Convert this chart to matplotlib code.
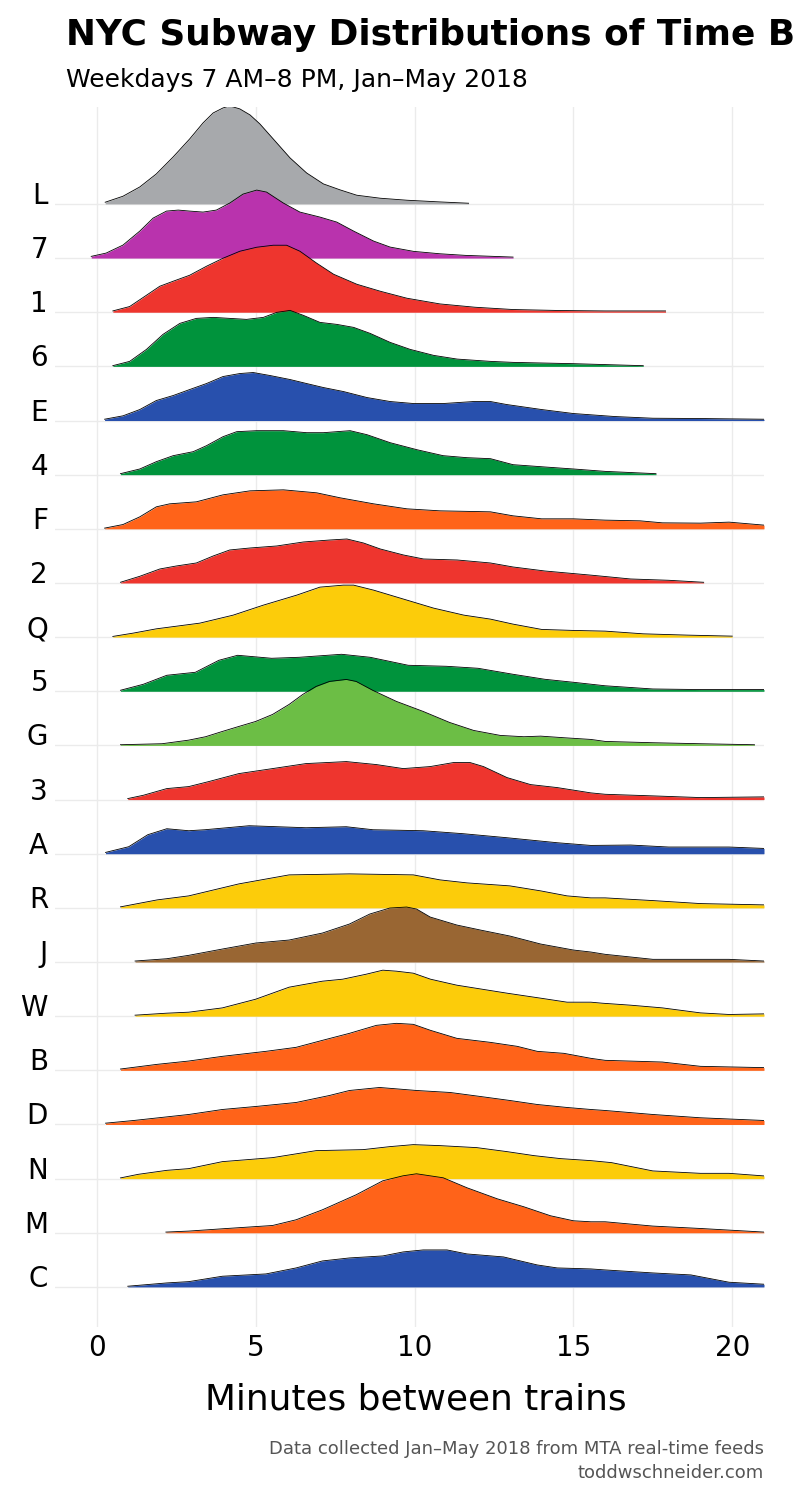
import numpy as np
import matplotlib.pyplot as plt

# subway lines, top row first
lines = ["L", "7", "1", "6", "E", "4", "F", "2", "Q", "5", "G",
         "3", "A", "R", "J", "W", "B", "D", "N", "M", "C"]

colors = {
    "L": "#A7A9AC", "7": "#B933AD",
    "1": "#EE352E", "2": "#EE352E", "3": "#EE352E",
    "4": "#00933C", "5": "#00933C", "6": "#00933C",
    "E": "#2850AD", "A": "#2850AD", "C": "#2850AD",
    "F": "#FF6319", "B": "#FF6319", "D": "#FF6319", "M": "#FF6319",
    "Q": "#FCCC0A", "R": "#FCCC0A", "W": "#FCCC0A", "N": "#FCCC0A",
    "G": "#6CBE45", "J": "#996633",
}

# minutes between trains / relative density
x_L = [0.26, 0.82, 1.35, 1.87, 2.4, 2.92, 3.34, 3.66, 3.97, 4.18, 4.5, 4.82, 5.13, 5.55, 6.08, 6.6, 7.13, 7.66, 8.18, 8.92, 9.76, 10.8, 11.7]
h_L = [1.7, 7.7, 17, 30, 47, 65, 81, 91, 96, 98, 95, 89, 80, 65, 46, 31, 20, 14, 8.7, 5.7, 3.7, 2, 0.7]

x_7 = [-0.18, 0.29, 0.82, 1.35, 1.77, 2.19, 2.56, 2.92, 3.34, 3.76, 4.18, 4.6, 5.03, 5.34, 5.87, 6.39, 7.02, 7.55, 8.08, 8.71, 9.23, 9.97, 10.8, 11.6, 13.1]
h_7 = [1.7, 5, 13, 27, 40, 47, 48, 47, 46, 48, 55, 64, 68, 66, 55, 46, 41, 36, 27, 17, 11, 6.7, 4.3, 2.7, 1]

x_1 = [0.5, 1.03, 1.56, 1.98, 2.4, 2.92, 3.45, 3.97, 4.5, 5.03, 5.55, 5.97, 6.39, 6.92, 7.45, 8.18, 8.92, 9.76, 10.8, 11.9, 13.1, 14.6, 16.0, 17.9]
h_1 = [1.3, 5.7, 17, 26, 31, 37, 46, 54, 61, 65, 67, 67, 61, 49, 38, 28, 21, 14, 8.3, 5, 2.7, 1.7, 1.3, 1.3]

x_6 = [0.5, 1.03, 1.56, 2.08, 2.61, 3.13, 3.66, 4.18, 4.71, 5.24, 5.66, 6.08, 6.5, 7.02, 7.55, 8.08, 8.6, 9.23, 9.86, 10.6, 11.34, 12.39, 13.1, 15.0, 17.2]
h_6 = [0.7, 5, 17, 32, 43, 48, 49, 48, 47, 49, 54, 56, 51, 44, 42, 39, 33, 24, 17, 11, 7.3, 5, 4, 2.7, 0.7]

x_E = [0.24, 0.82, 1.35, 1.87, 2.4, 2.92, 3.45, 3.97, 4.5, 4.92, 5.45, 6.08, 6.6, 7.13, 7.76, 8.5, 9.23, 9.97, 10.9, 11.86, 12.39, 12.9, 14.0, 15.0, 16.3, 17.5, 19.0, 21.0]
h_E = [1.3, 4.7, 11, 20, 25, 31, 37, 44, 47, 48, 45, 41, 37, 33, 29, 23, 19, 17, 17, 19, 19, 16, 11, 7, 4, 2.3, 2, 1.3]

x_4 = [0.74, 1.35, 1.87, 2.4, 3.03, 3.45, 3.97, 4.4, 5.03, 5.87, 6.6, 7.13, 7.97, 8.5, 9.23, 10.07, 10.9, 11.65, 12.39, 13.1, 14.1, 15.0, 16.0, 17.6]
h_4 = [1, 5.7, 13, 19, 23, 29, 38, 43, 44, 44, 42, 42, 44, 40, 32, 25, 19, 17, 16, 10, 7.7, 5.7, 3.3, 1]

x_F = [0.24, 0.82, 1.35, 1.87, 2.29, 3.13, 3.97, 4.82, 5.87, 6.92, 7.66, 8.71, 9.76, 10.8, 12.39, 13.1, 14.0, 15.0, 16.0, 17.1, 17.8, 19.0, 19.9, 21.0]
h_F = [0.7, 4.3, 12, 22, 25, 27, 34, 38, 39, 36, 31, 25, 20, 18, 17, 13, 10, 10, 8.7, 8, 6, 5.7, 6.7, 3.7]

x_2 = [0.74, 1.35, 1.98, 2.5, 3.13, 3.66, 4.18, 4.82, 5.66, 6.5, 7.34, 7.87, 8.39, 8.92, 9.65, 10.28, 11.34, 12.39, 13.1, 14.1, 15.6, 16.8, 18.0, 19.1]
h_2 = [0.7, 6.7, 14, 17, 20, 27, 33, 35, 37, 41, 43, 44, 40, 34, 28, 24, 23, 20, 16, 12, 7.7, 4, 2.7, 0.7]

x_Q = [0.5, 1.14, 1.87, 3.24, 4.29, 5.24, 6.29, 7.02, 7.76, 8.08, 8.71, 9.76, 10.6, 11.55, 12.39, 13.1, 14.0, 15.0, 16.0, 17.2, 18.6, 20.0]
h_Q = [0.7, 4, 8.3, 14, 22, 32, 42, 50, 52, 52, 47, 37, 29, 22, 18, 13, 7.7, 6.7, 6, 3.3, 2, 1]

x_5 = [0.74, 1.46, 2.2, 3.1, 3.84, 4.43, 5.5, 6.37, 7.7, 8.6, 9.8, 11.0, 12.0, 13.1, 14.1, 15.0, 16.0, 17.5, 19.0, 21.0]
h_5 = [1, 7, 16, 19, 31, 36, 33, 34, 37, 34, 26, 25, 23, 17, 12, 9, 5.5, 2.3, 1.7, 1.7]

x_G = [0.74, 2.05, 2.89, 3.42, 3.95, 4.47, 5.0, 5.53, 6.05, 6.48, 6.9, 7.32, 7.85, 8.16, 8.69, 9.43, 10.27, 11.1, 11.86, 12.7, 13.44, 13.97, 14.7, 15.55, 16.0, 17.5, 19.0, 20.7]
h_G = [0.7, 1.7, 5.3, 8.7, 14, 19, 24, 31, 41, 51, 59, 64, 66, 64, 55, 44, 34, 23, 15, 10, 8.7, 9.3, 7.7, 6, 4, 2.7, 1.7, 0.7]

x_3 = [0.97, 1.46, 2.2, 2.89, 3.52, 4.47, 5.53, 6.58, 7.85, 8.8, 9.64, 10.49, 11.22, 11.75, 12.17, 12.91, 13.65, 14.49, 15.55, 16.0, 17.5, 19.0, 21.0]
h_3 = [1, 4.3, 11, 13, 18, 26, 31, 36, 38, 35, 31, 33, 37, 37, 33, 22, 15, 12, 6.7, 5.3, 3.7, 2, 2.7]

x_A = [0.27, 1.0, 1.6, 2.2, 2.89, 3.4, 4.79, 6.58, 7.85, 8.69, 10.27, 11.54, 12.91, 14.49, 15.55, 16.8, 18.0, 19.9, 21.0]
h_A = [1.3, 7, 19, 25, 23, 24, 28, 26, 27, 24, 23, 20, 16, 11, 8.3, 8.7, 6.7, 6.7, 5.3]

x_R = [0.74, 1.9, 2.89, 4.47, 6.05, 7.95, 9.96, 10.8, 11.65, 13.0, 13.97, 14.8, 15.55, 16.0, 17.5, 19.0, 21.0]
h_R = [1, 8, 12, 24, 33, 34, 33, 28, 25, 22, 17, 12, 10, 10, 7.3, 4.3, 3]

x_J = [1.2, 2.2, 2.89, 3.95, 5.0, 6.05, 7.1, 7.95, 8.59, 9.22, 9.75, 10.06, 10.49, 11.33, 12.07, 13.0, 13.97, 15.0, 15.55, 16.0, 17.5, 19.0, 19.9, 21.0]
h_J = [1, 3.3, 6.7, 13, 19, 22, 29, 38, 48, 54, 55, 53, 45, 37, 32, 26, 18, 12, 10, 7.7, 2.7, 2.7, 2.7, 1]

x_W = [1.2, 2.2, 2.89, 3.95, 5.0, 6.05, 7.1, 7.74, 8.48, 9.0, 9.43, 9.96, 10.5, 11.33, 12.91, 13.97, 14.8, 15.55, 15.9, 16.8, 17.8, 19.0, 19.9, 21.0]
h_W = [1, 3, 4, 8.3, 17, 29, 35, 37, 42, 46, 45, 43, 37, 31, 23, 18, 14, 14, 13, 11, 8.3, 3.3, 1.7, 2.3]

x_B = [0.74, 1.9, 2.89, 3.95, 5.32, 6.27, 7.1, 7.95, 8.8, 9.43, 9.96, 10.5, 11.33, 12.38, 13.23, 13.86, 14.7, 15.55, 16.0, 17.8, 19.0, 21.0]
h_B = [1.3, 6, 9.3, 14, 19, 23, 30, 37, 45, 47, 46, 40, 32, 28, 24, 19, 17, 12, 10, 8.3, 4, 2.7]

x_D = [0.27, 1.16, 2.89, 3.95, 5.0, 6.27, 7.32, 7.95, 8.9, 10.06, 11.12, 12.07, 13.0, 13.86, 14.8, 15.55, 16.0, 17.5, 19.0, 21.0]
h_D = [1.3, 4, 10, 15, 18, 22, 29, 34, 37, 34, 32, 28, 24, 20, 17, 15, 14, 10, 6.7, 4]

x_N = [0.74, 1.3, 2.2, 2.89, 3.95, 5.53, 6.9, 8.38, 9.22, 9.96, 10.8, 11.96, 12.91, 13.76, 14.6, 15.55, 16.2, 17.5, 19.0, 19.9, 21.0]
h_N = [0.7, 4.3, 8.3, 10, 17, 21, 28, 29, 32, 34, 33, 31, 27, 23, 20, 18, 16, 7.7, 5.3, 5.3, 2.7]

x_M = [2.17, 2.89, 3.95, 5.53, 6.27, 7.1, 8.16, 9.0, 9.64, 10.06, 10.9, 11.65, 12.6, 13.44, 14.28, 15.0, 15.55, 16.0, 17.5, 19.0, 21.0]
h_M = [0.7, 1.7, 4, 7.3, 13, 23, 38, 52, 57, 59, 55, 45, 34, 26, 17, 12, 11, 11, 6.7, 4.3, 0.7]

x_C = [0.97, 2.2, 2.89, 3.95, 5.32, 6.27, 7.1, 7.95, 9.0, 9.64, 10.27, 11.02, 11.65, 12.8, 13.86, 14.49, 15.55, 16.0, 17.5, 18.7, 19.9, 21.0]
h_C = [0.7, 4, 5.3, 10.7, 13, 19, 26, 29, 31, 35, 37, 37, 33, 30, 22, 19, 18, 17, 14, 12, 4.7, 2.7]

xticks = [0, 5, 10, 15, 20]

g = globals()
curves = {k: (g["x_" + k], g["h_" + k]) for k in lines}

fig = plt.figure(figsize=(8, 15), dpi=100)
ax = fig.add_axes([55 / 800, 1 - 1327 / 1500, 709 / 800, 1220 / 1500])

grid_col = "#ebebeb"
scale = 1 / 54.15   # density -> row heights
n = len(lines)

for xt in xticks:
    ax.axvline(xt, color=grid_col, lw=1.0, zorder=0)

for i, name in enumerate(lines):
    base = n - 1 - i
    ax.axhline(base, color=grid_col, lw=1.0, zorder=0)
    xs, hs = curves[name]
    xs = np.array(xs)
    ys = base + np.array(hs) * scale
    ax.fill_between(xs, base, ys, color=colors[name], lw=0, zorder=2 + i)
    ax.plot(xs, ys, color="black", lw=0.6, zorder=2 + i, solid_joinstyle="round")

ax.set_xlim(-1.32, 21)
ax.set_ylim(-0.74, 21.79)
ax.set_xticks(xticks)
ax.set_yticks(range(n))
ax.set_yticklabels(lines[::-1])
for lab in ax.get_yticklabels():
    lab.set_va("baseline")
ax.tick_params(axis="both", length=0, labelsize=20)
ax.tick_params(axis="y", pad=5)
ax.tick_params(axis="x", pad=5.4)
for sp in ax.spines.values():
    sp.set_visible(False)

fig.text(416 / 800, 1 - 1409.5 / 1500, "Minutes between trains", fontsize=25.8,
         ha="center", va="baseline")

fig.text(66 / 800, 1 - 45 / 1500, "NYC Subway Distributions of Time B",
         fontsize=25.8, fontweight="bold", ha="left", va="baseline")
fig.text(66 / 800, 1 - 87 / 1500, "Weekdays 7 AM–8 PM, Jan–May 2018",
         fontsize=18, ha="left", va="baseline")

fig.text(764 / 800, 1 - 1454 / 1500, "Data collected Jan–May 2018 from MTA real-time feeds",
         fontsize=13, color="#555555", ha="right", va="baseline")
fig.text(764 / 800, 1 - 1477.5 / 1500, "toddwschneider.com",
         fontsize=13, color="#555555", ha="right", va="baseline")

fig.savefig("out.png", dpi=100)
